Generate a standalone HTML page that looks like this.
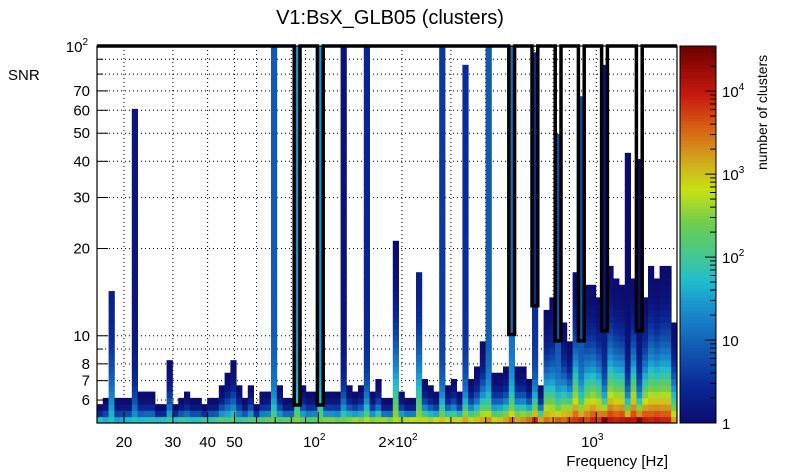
<!DOCTYPE html>
<html><head><meta charset="utf-8"><style>
body{margin:0;background:#fff;}
svg{display:block;font-family:"Liberation Sans",sans-serif;}
</style></head><body>
<svg id="chart" width="805" height="472" viewBox="0 0 805 472" xmlns="http://www.w3.org/2000/svg">
<rect width="805" height="472" fill="#fff"/>
<text x="390" y="24" font-size="20" text-anchor="middle">V1:BsX_GLB05 (clusters)</text>
<text x="8" y="80" font-size="15">SNR</text>
<text x="668" y="466" font-size="15" text-anchor="end">Frequency [Hz]</text>
<text transform="translate(767,170) rotate(-90)" font-size="14">number of clusters</text>
<g id="grid"></g>
<g id="cells"></g>
<g id="outline"></g>
<g id="axes"></g>
<g id="cbar"></g>
</svg>
<script>
// ---- data ----
const colTopSNR = [5.77,6.04,14,6.04,6.04,6.04,58,6.33,6.33,6.33,
5.77,5.77,8.17,5.77,6.04,6.33,6.04,6.04,5.77,6.04,
6.04,6.64,7.4,8.17,6.64,6.04,6.64,5.77,6.33,6.33,
100,6.64,6.04,6.04,100,6.64,6.33,6.33,100,6.33,
6.33,6.33,100,6.64,6.33,6.64,100,6.33,7.03,6.04,
6.04,21,6.33,6.04,6.04,16.4,7.03,6.7,6.33,100,
6.7,7.03,6.33,85,7.03,7.7,9.5,100,7.4,7.4,
7.7,100,7.7,7.7,7.03,95,6.7,12.1,13.5,49,
11,9.5,16.4,66,14.7,14.7,13.5,85,17.3,15.5,
14.7,42,15.5,40,13.5,17.3,15.5,17.3,17.3,10.9];
const colBaseCount = [60,40,60,30,40,50,60,50,60,60,
50,60,80,60,100,80,60,70,100,80,
100,150,120,150,80,100,150,120,150,200,
250,150,200,200,300,200,150,200,250,300,
300,200,250,300,400,300,500,300,400,400,
300,500,400,500,600,500,800,400,600,1000,
600,800,800,1500,800,1000,1500,2000,800,1000,
1500,3000,1500,2000,3000,8000,1500,3000,2000,4000,
3000,5000,6000,8000,5000,8000,6000,30000,10000,8000,
10000,12000,10000,25000,10000,8000,10000,8000,8000,1500];
const colTopCount = [1,1,2,1,1,1,1.5,1,1,1,
1,1,1,1,1,1,1,1,1,1,
1,1,1,1,1,1,1,1,1,1,
8,1,1,1,25,1,1,1,25,1,
1,1,1.2,1,1,1,2.5,1,1,1,
1,1,1,1,1,2,1,1,1,4,
1,1,1,3,1,1,1,8,1,1,
1,12,1,1,1,3,1,1,1,6,
1,1,1,6,1,1,1,1.5,1,1,
1,1,1,1,1,1,1,1,1,1];
const outlineSNR = [100,100,100,100,100,100,100,100,100,100,
100,100,100,100,100,100,100,100,100,100,
100,100,100,100,100,100,100,100,100,100,
100,100,100,100,5.77,100,100,100,5.77,100,
100,100,100,100,100,100,100,100,100,100,
100,100,100,100,100,100,100,100,100,100,
100,100,100,100,100,100,100,100,100,100,
100,10.1,100,100,100,12.7,100,100,100,9.6,
100,100,100,9.6,100,100,100,10.4,100,100,
100,100,100,10.4,100,100,100,100,100,100];
const yTickLabels = [6,7,8,10,20,30,40,50,60,70];
const xTickLabels = [20,30,40,50];
const cbarTicks = [1,10,100,1000,10000];

// ---- scales ----
const NS="http://www.w3.org/2000/svg";
const PX0=97,PX1=677,PY0=423,PY1=46;
const FMIN=16, DEC_X=278, FSPAN=(PX1-PX0)/DEC_X;
const SMIN=5, SMAX=100, DEC_Y=(PY0-PY1)/Math.log10(SMAX/SMIN);
const NX=colTopSNR.length, NY=60;
const xScale=f=>PX0+DEC_X*Math.log10(f/FMIN);
const yScale=s=>PY0-DEC_Y*Math.log10(s/SMIN);
const binFreq=k=>FMIN*Math.pow(10,k*FSPAN/NX);
const rowSNR=r=>SMIN*Math.pow(10,r*Math.log10(SMAX/SMIN)/NY);
const CMAX=35000;
const stops=[[0,[12,12,110]],[0.1,[10,40,150]],[0.22,[20,100,185]],[0.3,[25,140,205]],[0.38,[34,190,204]],[0.45,[70,200,140]],[0.53,[110,205,80]],[0.62,[200,225,20]],[0.7,[210,165,30]],[0.78,[215,100,20]],[0.87,[200,25,15]],[1,[110,0,0]]];
function color(c){
  let t=Math.max(0,Math.min(1,Math.log10(Math.max(c,1))/Math.log10(CMAX)));
  for(let i=1;i<stops.length;i++){ if(t<=stops[i][0]){
    const a=stops[i-1],b=stops[i],u=(t-a[0])/(b[0]-a[0]);
    return 'rgb('+a[1].map((v,j)=>Math.round(v+(b[1][j]-v)*u)).join(',')+')';}}
  return 'rgb(110,0,0)';
}
function mk(tag,attrs,parent){const e=document.createElementNS(NS,tag);for(const k in attrs)e.setAttribute(k,attrs[k]);parent.appendChild(e);return e;}

// ---- grid ----
const grid=document.getElementById('grid');
const gridF=[20,30,40,50,60,70,80,90,100,200,300,400,500,600,700,800,900,1000];
gridF.forEach(f=>{const x=xScale(f);const l=mk('line',{x1:x,x2:x,y1:PY1,y2:PY0,stroke:'#000','stroke-width':1,'stroke-dasharray':'1,3'},grid);

});
const gridS=[6,7,8,9,10,20,30,40,50,60,70,80,90];
gridS.forEach(s=>{const y=yScale(s);const l=mk('line',{x1:PX0,x2:PX1,y1:y,y2:y,stroke:'#000','stroke-width':1,'stroke-dasharray':'1,3'},grid);

});

// ---- cells ----
const cells=document.getElementById('cells');
for(let k=0;k<NX;k++){
  const x0=xScale(binFreq(k)), x1=xScale(binFreq(k+1));
  let n=Math.ceil(Math.log10(colTopSNR[k]/SMIN)/(Math.log10(SMAX/SMIN)/NY)-0.05);
  n=Math.max(1,Math.min(NY,n));
  const lb=Math.log10(colBaseCount[k]), lt=Math.log10(colTopCount[k]);
  const spike=n>=30;
  for(let r=0;r<n;r++){
    const t=n>1?r/(n-1):0;
    const f=spike?Math.exp(-r/3.5):Math.pow(1-t,2);
    const c=Math.pow(10,lt+(lb-lt)*f);
    const yb=yScale(rowSNR(r)), yt=yScale(rowSNR(r+1));
    const rc=mk('rect',{x:x0,y:yt,width:x1-x0+0.4,height:yb-yt+0.4,fill:color(c)},cells);
    
    
  }
}

// ---- outline histogram ----
const og=document.getElementById('outline');
let d='M'+PX0+','+yScale(outlineSNR[0]);
for(let k=0;k<NX;k++){
  const y=yScale(outlineSNR[k]);
  d+=' V'+y+' H'+xScale(binFreq(k+1));
}
const op=mk('path',{d:d,fill:'none',stroke:'#000','stroke-width':3.5,'stroke-linejoin':'miter'},og);



// ---- axes ----
const ax=document.getElementById('axes');
const fr=mk('rect',{x:PX0,y:PY1,width:PX1-PX0,height:PY0-PY1,fill:'none',stroke:'#000','stroke-width':1.2},ax);


gridF.concat([2000]).forEach(f=>{const x=xScale(f);if(x>PX1)return;const major=(f===100||f===1000||xTickLabels.includes(f));
const l=mk('line',{x1:x,x2:x,y1:PY0,y2:PY0-(major?11:6),stroke:'#000','stroke-width':1},ax);

});
xTickLabels.forEach(f=>{const t=mk('text',{x:xScale(f),y:447,'font-size':15,'text-anchor':'middle'},ax);t.textContent=f;

});
[[100,'10','2'],[200,'2×10','2'],[1000,'10','3']].forEach(p=>{const t=mk('text',{x:xScale(p[0])-4,y:447,'font-size':15,'text-anchor':'middle'},ax);
t.textContent=p[1];const s=mk('tspan',{dy:-7,'font-size':10},t);s.textContent=p[2];

});
gridS.forEach(s=>{const y=yScale(s);const major=yTickLabels.includes(s);
const l=mk('line',{x1:PX0,x2:PX0+(major?11:6),y1:y,y2:y,stroke:'#000','stroke-width':1},ax);

});
yTickLabels.forEach(s=>{const t=mk('text',{x:90,y:yScale(s)+5,'font-size':15,'text-anchor':'end'},ax);t.textContent=s;

});
{const t=mk('text',{x:88,y:yScale(100)+6,'font-size':15,'text-anchor':'end'},ax);t.textContent='10';const s=mk('tspan',{dy:-7,'font-size':10},t);s.textContent='2';

}

// ---- colorbar ----
const cb=document.getElementById('cbar');
const CB0=680,CB1=716;
const cy=c=>PY0-(PY0-PY1)*Math.log10(c)/Math.log10(CMAX);
for(let i=0;i<120;i++){
  const c0=Math.pow(CMAX,i/120), c1=Math.pow(CMAX,(i+1)/120);
  const r=mk('rect',{x:CB0,y:cy(c1),width:CB1-CB0,height:cy(c0)-cy(c1)+0.5,fill:color(Math.sqrt(c0*c1))},cb);
  
  
}
const cbf=mk('rect',{x:CB0,y:PY1,width:CB1-CB0,height:PY0-PY1,fill:'none',stroke:'#000','stroke-width':1},cb);


cbarTicks.forEach(c=>{for(let m=1;m<10;m++){const v=c*m;if(v>CMAX)break;const y=cy(v);
const l=mk('line',{x1:CB1,x2:CB1-(m===1?11:6),y1:y,y2:y,stroke:'#000','stroke-width':1},cb);

}});
cbarTicks.forEach(c=>{const e=Math.round(Math.log10(c));const t=mk('text',{x:722,y:cy(c)+6,'font-size':15},cb);
if(e===0)t.textContent='1';else if(e===1)t.textContent='10';else{t.textContent='10';const s=mk('tspan',{dy:-7,'font-size':10},t);s.textContent=e;}

});
</script>
</body></html>
